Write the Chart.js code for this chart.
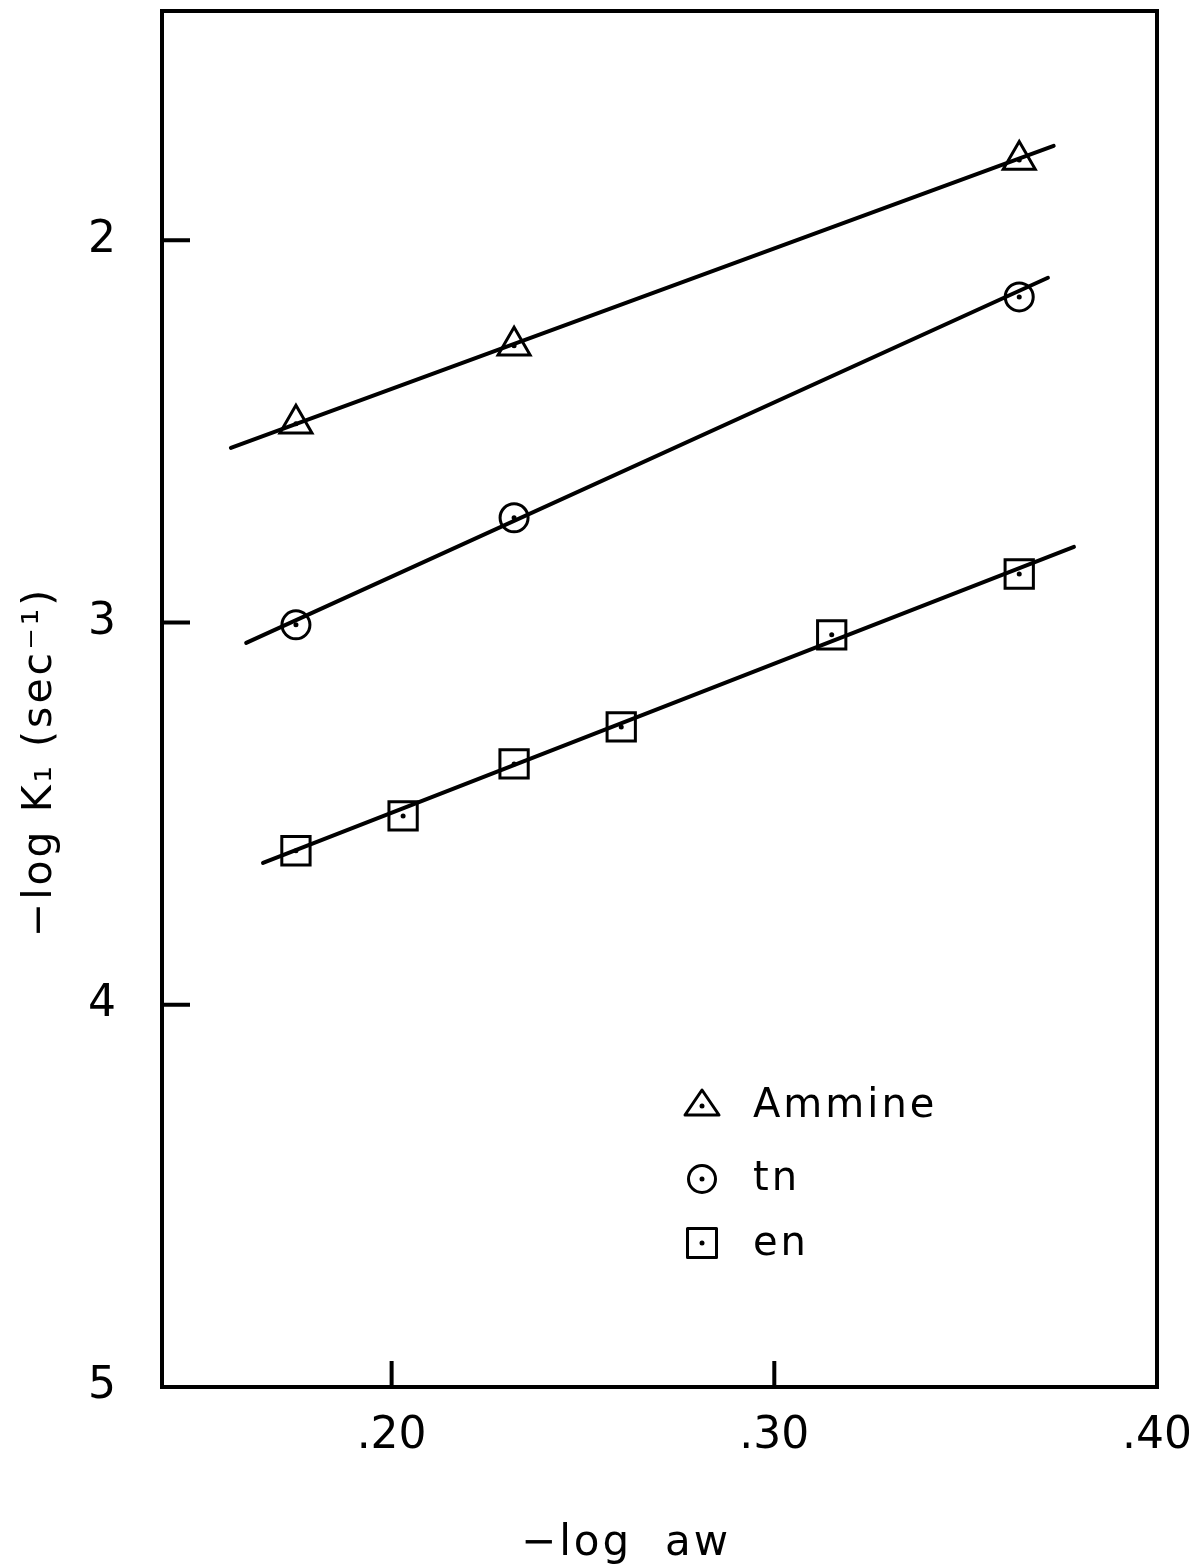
<!DOCTYPE html>
<html>
<head>
<meta charset="utf-8">
<title>-log K1 vs -log aw</title>
<script src="https://cdn.jsdelivr.net/npm/chart.js@4.4.0/dist/chart.umd.min.js"></script>
<style>
  html, body { margin: 0; padding: 0; background: #fff; }
  #wrap { width: 1189px; height: 1568px; }
</style>
</head>
<body>
<div id="wrap"><canvas id="chart" width="1189" height="1568"></canvas></div>
<script>
// measured rate constants, one pair of arrays per complex
const ammineX = [0.175, 0.232, 0.364];
const ammineY = [2.48, 2.276, 1.79];
const tnX = [0.175, 0.232, 0.364];
const tnY = [3.006, 2.726, 2.148];
const enX = [0.175, 0.203, 0.232, 0.260, 0.315, 0.364];
const enY = [3.597, 3.506, 3.370, 3.273, 3.032, 2.873];

// end points of the fitted straight lines
const ammineFitX = [0.158, 0.373];
const ammineFitY = [2.543, 1.753];
const tnFitX = [0.162, 0.3715];
const tnFitY = [3.053, 2.098];
const enFitX = [0.1664, 0.3783];
const enFitY = [3.629, 2.802];

const seriesNames = ['Ammine', 'tn', 'en'];
const xTicks = [0.20, 0.30, 0.40];
const yTicks = [2, 3, 4, 5];

const FONT = '"DejaVu Sans", sans-serif';

const pts = (xs, ys) => xs.map((x, i) => ({ x: x, y: ys[i] }));

function markerSet(label, xs, ys, style, radius) {
    return {
        label: label,
        data: pts(xs, ys),
        showLine: false,
        pointStyle: style,
        pointRadius: radius,
        pointBorderWidth: 3,
        pointBorderColor: '#000',
        pointBackgroundColor: 'rgba(0,0,0,0)'
    };
}

function dotSet(xs, ys) {
    return {
        data: pts(xs, ys),
        showLine: false,
        pointStyle: 'circle',
        pointRadius: 2.5,
        pointBorderWidth: 0,
        pointBackgroundColor: '#000'
    };
}

function fitSet(xs, ys) {
    return {
        data: pts(xs, ys),
        showLine: true,
        borderColor: '#000',
        borderWidth: 4,
        borderCapStyle: 'round',
        pointRadius: 0,
        fill: false
    };
}

// box frame plus the short inward tick marks
const framePlugin = {
    id: 'frame',
    afterDraw(chart) {
        const { ctx, chartArea: a, scales: { x, y } } = chart;
        ctx.save();
        ctx.strokeStyle = '#000';
        ctx.lineWidth = 4;
        ctx.strokeRect(a.left, a.top, a.right - a.left, a.bottom - a.top);
        ctx.beginPath();
        yTicks.forEach(v => {
            const py = y.getPixelForValue(v);
            if (py > a.top + 3 && py < a.bottom - 3) {
                ctx.moveTo(a.left, py);
                ctx.lineTo(a.left + 28, py);
            }
        });
        xTicks.forEach(v => {
            const px = x.getPixelForValue(v);
            if (px > a.left + 3 && px < a.right - 3) {
                ctx.moveTo(px, a.bottom);
                ctx.lineTo(px, a.bottom - 26);
            }
        });
        ctx.stroke();
        ctx.restore();
    }
};

// axis titles, drawn by hand for the subscript/superscript and spacing
const titlePlugin = {
    id: 'axisTitles',
    afterDraw(chart) {
        const ctx = chart.ctx;
        ctx.save();
        ctx.fillStyle = '#000';
        ctx.textAlign = 'center';
        ctx.textBaseline = 'middle';
        ctx.font = '41px ' + FONT;
        ctx.letterSpacing = '3px';
        ctx.translate(40, 762);
        ctx.rotate(-Math.PI / 2);
        ctx.fillText('\u2212log K\u2081 (sec\u207B\u00B9)', 0, 0);
        ctx.restore();

        ctx.save();
        ctx.fillStyle = '#000';
        ctx.textAlign = 'center';
        ctx.textBaseline = 'alphabetic';
        ctx.font = '42px ' + FONT;
        ctx.letterSpacing = '3px';
        ctx.fillText('\u2212log  aw', 626, 1555);
        ctx.restore();
    }
};

// symbol key in the lower right of the plot
const keyPlugin = {
    id: 'symbolKey',
    afterDraw(chart) {
        const ctx = chart.ctx;
        const cx = 702;
        const rows = [1106, 1179, 1243];
        const baselines = [1117, 1190, 1255];
        ctx.save();
        ctx.strokeStyle = '#000';
        ctx.fillStyle = '#000';
        ctx.lineWidth = 3;
        ctx.lineJoin = 'round';

        // triangle
        ctx.beginPath();
        ctx.moveTo(cx, rows[0] - 16);
        ctx.lineTo(cx + 17, rows[0] + 9);
        ctx.lineTo(cx - 17, rows[0] + 9);
        ctx.closePath();
        ctx.stroke();

        // circle
        ctx.beginPath();
        ctx.arc(cx, rows[1], 13.5, 0, Math.PI * 2);
        ctx.stroke();

        // square
        ctx.strokeRect(cx - 14.5, rows[2] - 14.5, 29, 29);

        rows.forEach(r => {
            ctx.beginPath();
            ctx.arc(cx, r, 2.5, 0, Math.PI * 2);
            ctx.fill();
        });

        ctx.font = '40px ' + FONT;
        ctx.letterSpacing = '3px';
        ctx.textAlign = 'left';
        ctx.textBaseline = 'alphabetic';
        seriesNames.forEach((name, i) => {
            ctx.fillText(name, 753, baselines[i]);
        });
        ctx.restore();
    }
};

function noPadding(s) {
    s.paddingLeft = 0;
    s.paddingRight = 0;
    s.paddingTop = 0;
    s.paddingBottom = 0;
}

new Chart(document.getElementById('chart'), {
    type: 'scatter',
    data: {
        datasets: [
            fitSet(ammineFitX, ammineFitY),
            fitSet(tnFitX, tnFitY),
            fitSet(enFitX, enFitY),
            markerSet(seriesNames[0], ammineX, ammineY, 'triangle', 18.5),
            markerSet(seriesNames[1], tnX, tnY, 'circle', 14),
            markerSet(seriesNames[2], enX, enY, 'rect', 20),
            dotSet(ammineX, ammineY),
            dotSet(tnX, tnY),
            dotSet(enX, enY)
        ]
    },
    options: {
        responsive: false,
        animation: false,
        events: [],
        layout: {
            autoPadding: false,
            padding: { top: 11, right: 32, left: 0, bottom: 0 }
        },
        plugins: {
            legend: { display: false },
            tooltip: { enabled: false }
        },
        scales: {
            x: {
                type: 'linear',
                min: 0.14,
                max: 0.40,
                afterBuildTicks: s => { s.ticks = xTicks.map(v => ({ value: v })); },
                afterFit: s => { s.height = 181; noPadding(s); },
                grid: { display: false, drawTicks: false },
                border: { display: false },
                ticks: {
                    padding: 23,
                    color: '#000',
                    font: { family: FONT, size: 44 },
                    callback: v => '.' + Math.round(v * 100)
                }
            },
            y: {
                type: 'linear',
                reverse: true,
                min: 1.4,
                max: 5,
                afterBuildTicks: s => { s.ticks = yTicks.map(v => ({ value: v })); },
                afterFit: s => { s.width = 162; noPadding(s); },
                grid: { display: false, drawTicks: false },
                border: { display: false },
                ticks: {
                    padding: 46,
                    color: '#000',
                    font: { family: FONT, size: 44 },
                    callback: v => String(v)
                }
            }
        }
    },
    plugins: [framePlugin, titlePlugin, keyPlugin]
});
</script>
</body>
</html>
